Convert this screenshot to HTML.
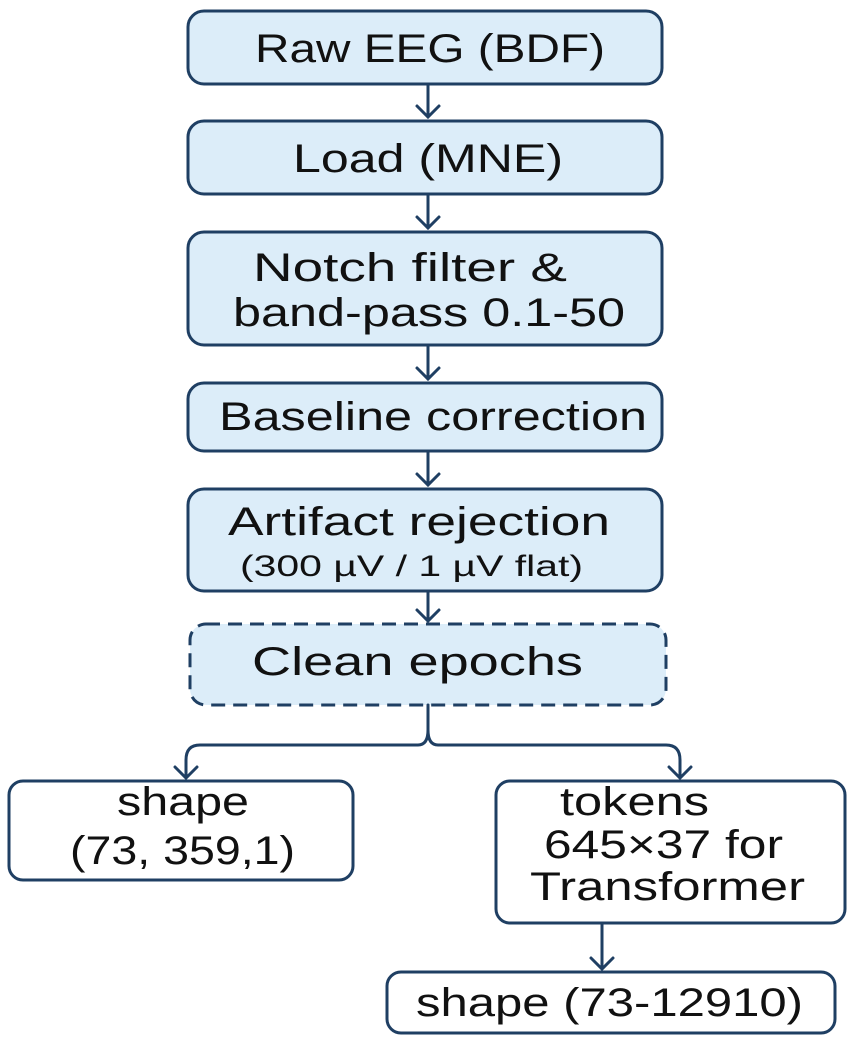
<!DOCTYPE html>
<html><head><meta charset="utf-8"><style>html,body{margin:0;padding:0;background:#fff}svg{display:block}</style></head>
<body>
<svg width="851" height="1044" viewBox="0 0 851 1044" xmlns="http://www.w3.org/2000/svg" font-family="Liberation Sans, DejaVu Sans, sans-serif" fill="#111">
<g stroke="#1f3f63" stroke-width="3" fill="#dcedf9">
<rect x="188" y="11" width="474" height="73" rx="16"/>
<rect x="188" y="121" width="474" height="73" rx="16"/>
<rect x="188" y="232" width="474" height="113" rx="16"/>
<rect x="188" y="383" width="474" height="68" rx="16"/>
<rect x="188" y="489" width="474" height="102" rx="16"/>
<rect x="190" y="624" width="476" height="81" rx="16" stroke-dasharray="14 8"/>
</g>
<g stroke="#1f3f63" stroke-width="3" fill="#fff">
<rect x="9" y="781" width="344" height="99" rx="14"/>
<rect x="496" y="781" width="349" height="142" rx="14"/>
<rect x="387" y="972" width="448" height="61" rx="14"/>
</g>
<g stroke="#1f3f63" stroke-width="3" fill="none" stroke-linecap="round">
<path d="M428 84V117M417 106L428 117L439 106"/>
<path d="M428 194V228M417 217L428 228L439 217"/>
<path d="M428 345V379M417 368L428 379L439 368"/>
<path d="M428 451V485M417 474L428 485L439 474"/>
<path d="M428 591V621M417 610L428 621L439 610"/>
<path d="M428 705V730Q428 745 418 745H200Q186 745 186 760V778M175 767L186 778L197 767"/>
<path d="M428 730Q428 745 438 745H666Q680 745 680 760V778M669 767L680 778L691 767"/>
<path d="M602 923V969M591 958L602 969L613 958"/>
</g>
<g font-size="40">
<text x="255" y="62" textLength="350" lengthAdjust="spacingAndGlyphs">Raw EEG (BDF)</text>
<text x="293" y="172" textLength="270" lengthAdjust="spacingAndGlyphs">Load (MNE)</text>
<text x="253" y="281" textLength="314" lengthAdjust="spacingAndGlyphs">Notch filter &amp;</text>
<text x="233" y="326" textLength="392" lengthAdjust="spacingAndGlyphs">band-pass 0.1-50</text>
<text x="219" y="430" textLength="428" lengthAdjust="spacingAndGlyphs">Baseline correction</text>
<text x="228" y="535" textLength="382" lengthAdjust="spacingAndGlyphs">Artifact rejection</text>
<text x="240" y="576" font-size="30" textLength="343" lengthAdjust="spacingAndGlyphs">(300 µV / 1 µV flat)</text>
<text x="252" y="675" textLength="331" lengthAdjust="spacingAndGlyphs">Clean epochs</text>
<text x="117" y="815" textLength="132" lengthAdjust="spacingAndGlyphs">shape</text>
<text x="70" y="864" textLength="225" lengthAdjust="spacingAndGlyphs">(73, 359,1)</text>
<text x="560" y="815" textLength="149" lengthAdjust="spacingAndGlyphs">tokens</text>
<text x="544" y="858" textLength="239" lengthAdjust="spacingAndGlyphs">645×37 for</text>
<text x="530" y="900" textLength="275" lengthAdjust="spacingAndGlyphs">Transformer</text>
<text x="416" y="1016" textLength="387" lengthAdjust="spacingAndGlyphs">shape (73-12910)</text>
</g>
</svg>
</body></html>
